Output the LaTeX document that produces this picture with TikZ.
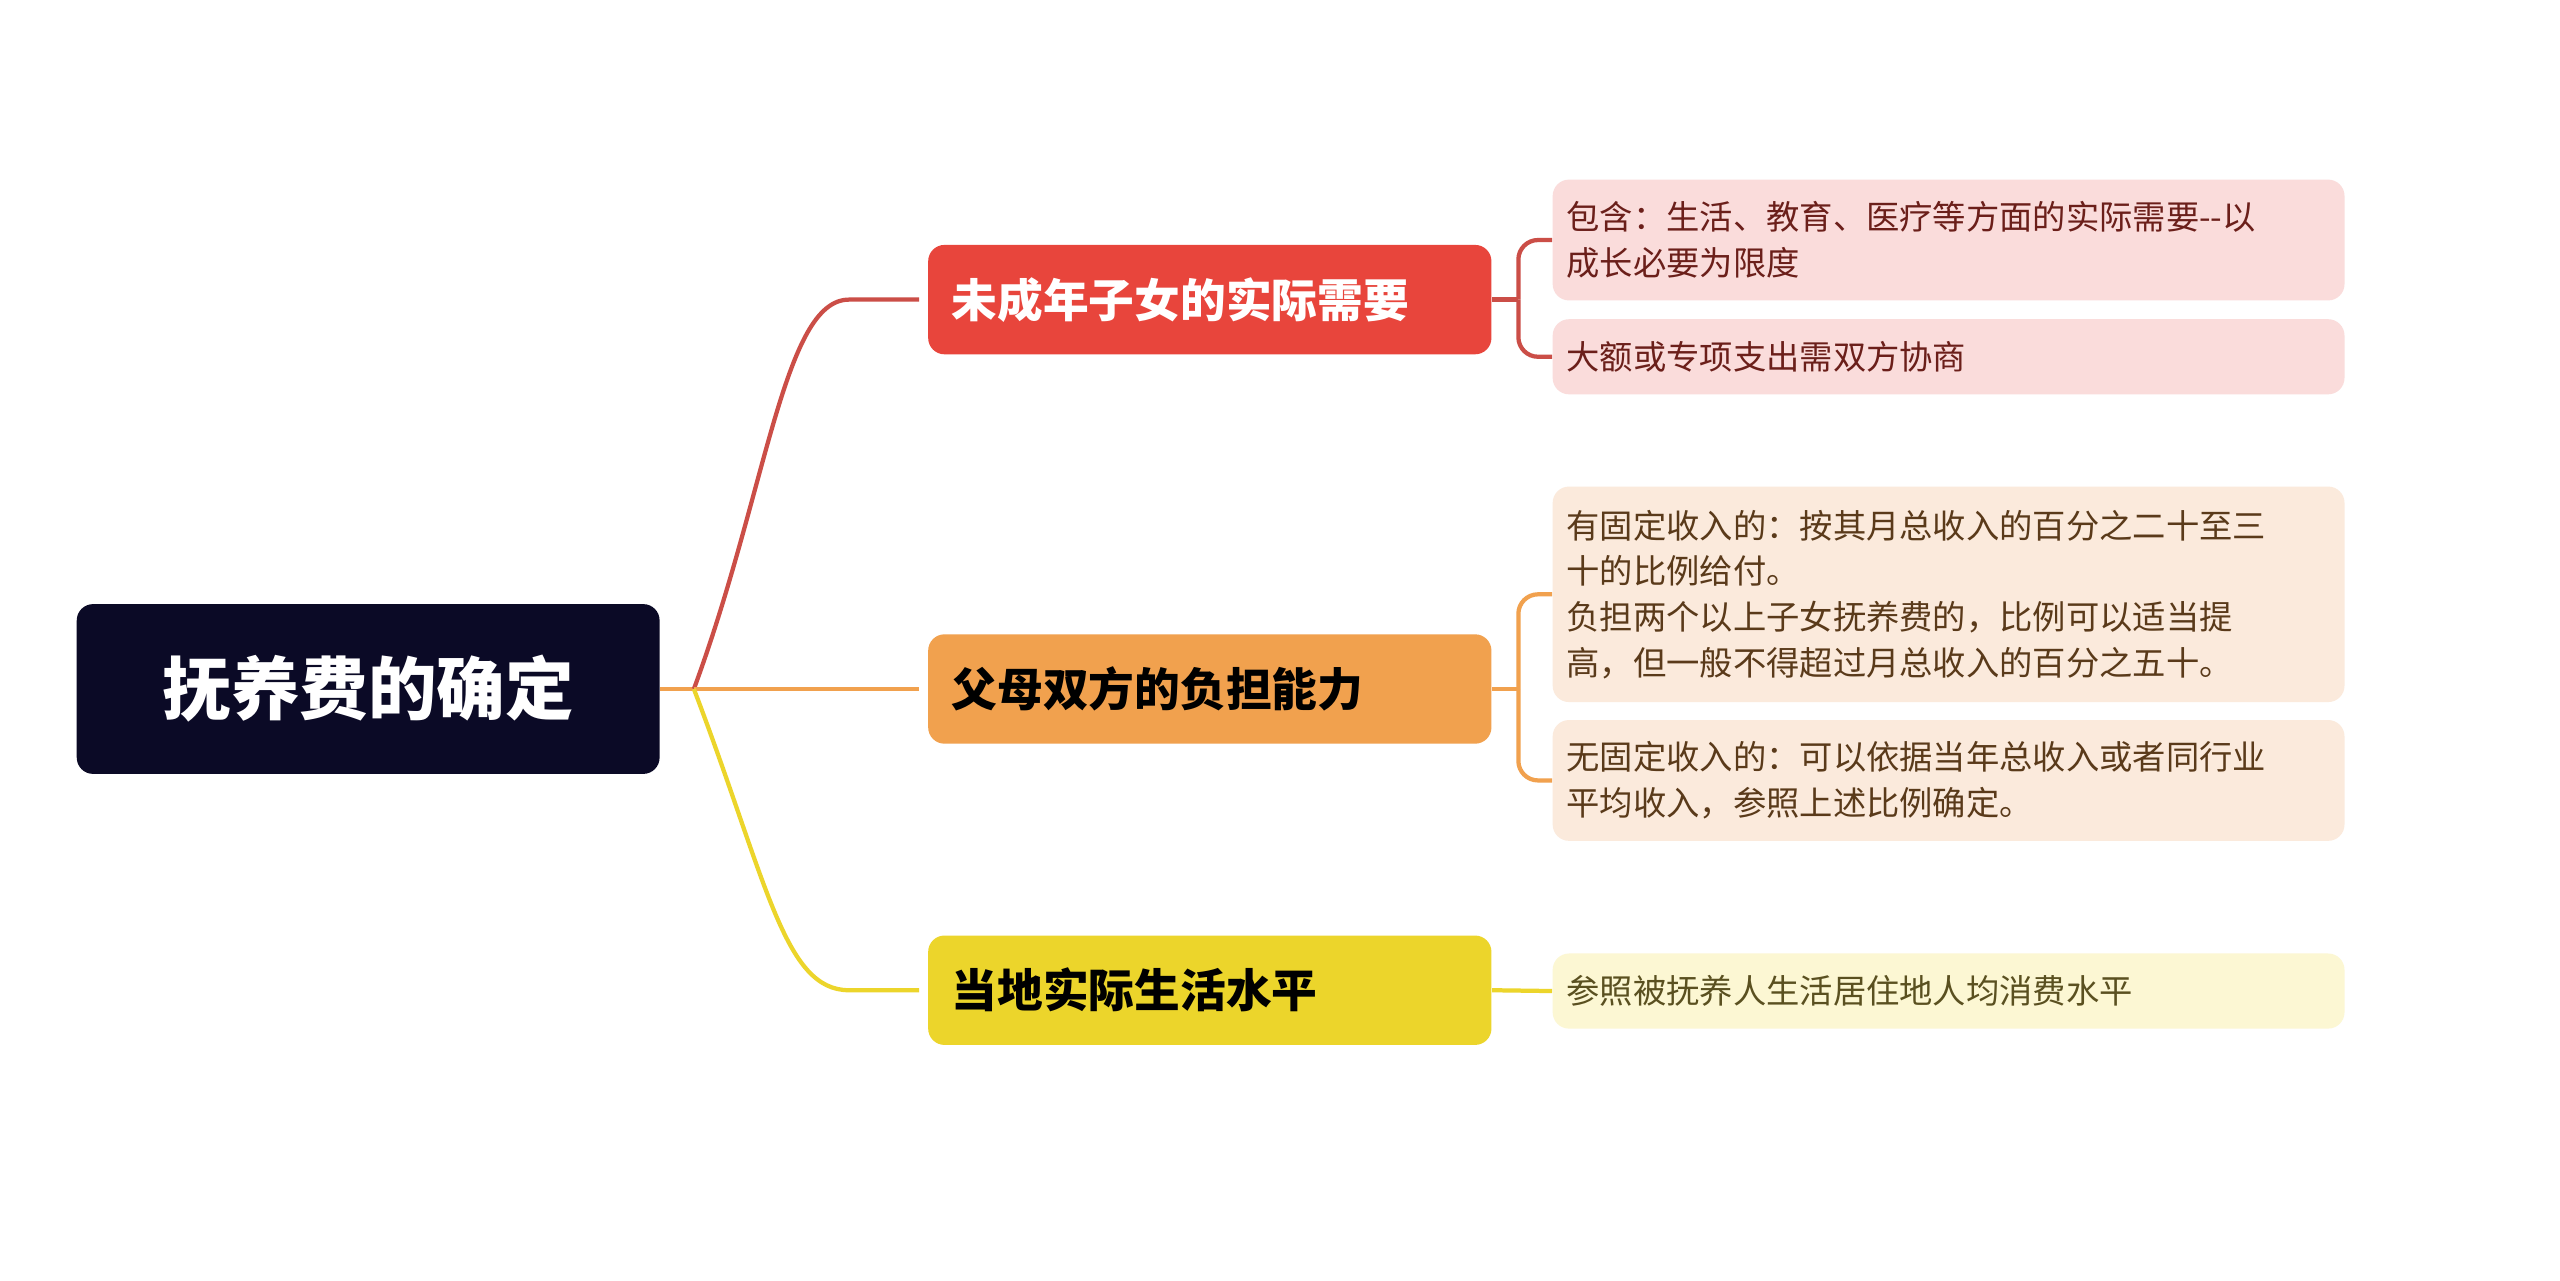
\documentclass[tikz,border=0pt]{standalone}
\usepackage{fontspec}
\setmainfont{Noto Sans CJK SC}
\definecolor{rootc}{HTML}{0B0A26}
\definecolor{redc}{HTML}{E8453C}
\definecolor{orc}{HTML}{F1A14E}
\definecolor{yelc}{HTML}{ECD52B}
\definecolor{pinkc}{HTML}{FADCDB}
\definecolor{peachc}{HTML}{FBEADC}
\definecolor{creamc}{HTML}{FCF7D3}
\definecolor{redt}{HTML}{6B1F1A}
\definecolor{ort}{HTML}{5A3A1A}
\definecolor{yelt}{HTML}{5A5020}
\begin{document}
\begin{tikzpicture}[x=0.5pt,y=-0.5pt,
  rootbox/.style={fill=rootc,rounded corners=5pt,minimum width=178.5pt,minimum height=52pt,text=white,font=\fontsize{21}{24}\selectfont\bfseries},
  branchbox/.style={rounded corners=5pt,minimum width=172.5pt,minimum height=33.5pt,text width=158pt,inner xsep=7pt,align=left,font=\fontsize{14}{16}\selectfont\bfseries},
  leafbox/.style={rounded corners=5pt,minimum width=242.5pt,text width=234pt,inner xsep=4.25pt,inner ysep=4pt,align=left,font=\fontsize{10.2}{14}\selectfont},
  conn/.style={line width=1.3pt}]
\useasboundingbox (0,0) rectangle (1568,784);
\fill[white] (0,0) rectangle (1568,784);
\node[rootbox] (root) at (225.5,422) {抚养费的确定};
\node[branchbox,fill=redc,text=white] (b1) at (741,183.5) {未成年子女的实际需要};
\node[branchbox,fill=orc,text=black] (b2) at (741,422) {父母双方的负担能力};
\node[branchbox,fill=yelc,text=black] (b3) at (741,606.5) {当地实际生活水平};
\path (b1.west) -- ++(-5.5,0);
\node[leafbox,fill=pinkc,text=redt,minimum height=37pt] (l1a) at (1193.5,147) {包含：生活、教育、医疗等方面的实际需要-{}-以\\成长必要为限度};
\node[leafbox,fill=pinkc,text=redt,minimum height=23pt] (l1b) at (1193.5,218.5) {大额或专项支出需双方协商};
\node[leafbox,fill=peachc,text=ort,minimum height=66pt] (l2a) at (1193.5,364) {有固定收入的：按其月总收入的百分之二十至三\\十的比例给付。\\负担两个以上子女抚养费的，比例可以适当提\\高，但一般不得超过月总收入的百分之五十。};
\node[leafbox,fill=peachc,text=ort,minimum height=37pt] (l2b) at (1193.5,478) {无固定收入的：可以依据当年总收入或者同行业\\平均收入，参照上述比例确定。};
\node[leafbox,fill=creamc,text=yelt,minimum height=23pt] (l3) at (1193.5,607) {参照被抚养人生活居住地人均消费水平};
\coordinate (j) at (425,422);
\coordinate (k1) at (930,183.5);
\coordinate (k2) at (930,422);
\draw[conn,draw=orc] (root.east) -- (j);
\draw[conn,draw=redc!85!black!90] (j) .. controls (470,300) and (480,183.5) .. (520,183.5) -- (563,183.5);
\draw[conn,draw=orc] (j) -- (563,422);
\draw[conn,draw=yelc] (j) .. controls (470,540) and (480,606.5) .. (520,606.5) -- (563,606.5);
\draw[conn,draw=redc!85!black!90] (b1.east) -- (k1);
\draw[conn,draw=redc!85!black!90,rounded corners=6pt] (k1) |- (l1a.west);
\draw[conn,draw=redc!85!black!90,rounded corners=6pt] (k1) |- (l1b.west);
\draw[conn,draw=orc] (b2.east) -- (k2);
\draw[conn,draw=orc,rounded corners=6pt] (k2) |- (l2a.west);
\draw[conn,draw=orc,rounded corners=6pt] (k2) |- (l2b.west);
\draw[conn,draw=yelc] (b3.east) -- (l3.west);
\end{tikzpicture}
\end{document}
